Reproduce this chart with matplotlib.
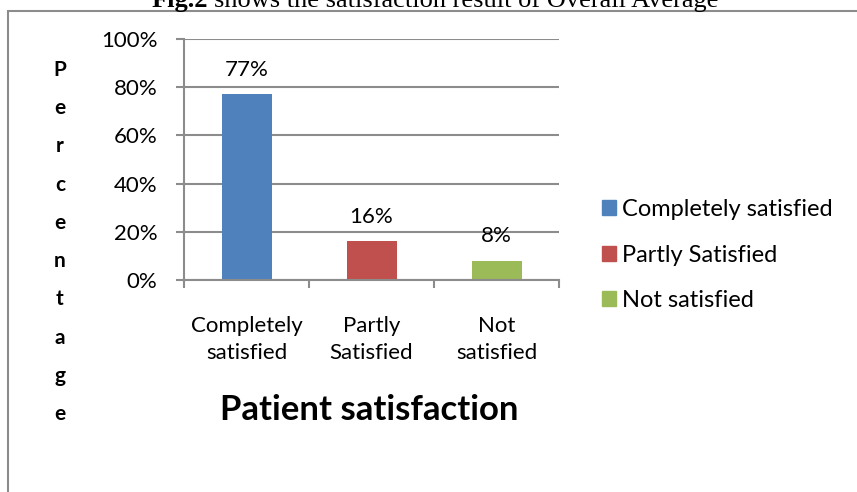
import matplotlib
matplotlib.use("Agg")
import matplotlib.pyplot as plt
from matplotlib.patches import Rectangle, Patch
from matplotlib.ticker import PercentFormatter

# data
categories = ["Completely\nsatisfied", "Partly\nSatisfied", "Not\nsatisfied"]
legend_names = ["Completely satisfied", "Partly Satisfied", "Not satisfied"]
values = [0.77, 0.16, 0.08]
value_labels = ["77%", "16%", "8%"]
colors = ["#4F81BD", "#C0504D", "#9BBB59"]

plt.rcParams["font.family"] = ["Lato", "DejaVu Sans"]

W, H = 857, 492
fig = plt.figure(figsize=(W / 100, H / 100), dpi=100)

# outer frame (runs off the right and bottom edges)
fig.patches.append(Rectangle((8 / W, -0.1), 1.2, 1 - 11 / H + 0.1, transform=fig.transFigure,
                             fill=False, edgecolor="#8c8c8c", linewidth=1.5))

# caption, cut at the top like in the source
t1 = fig.text(152 / W, 1 - 7 / H, "Fig.2", ha="left", va="baseline", fontsize=19,
              fontweight="bold", family="Liberation Serif")
fig.canvas.draw()
bb = t1.get_window_extent()
fig.text((bb.x1 + 5) / W, 1 - 7 / H, "shows the satisfaction result of Overall Average",
         ha="left", va="baseline", fontsize=19, family="Liberation Serif")

ax = fig.add_axes([184 / W, 1 - 280 / H, (559 - 184) / W, (280 - 39) / H])
x = range(len(values))
ax.bar(x, values, width=0.4, color=colors)
ax.set_xlim(-0.5, 2.5)
ax.set_ylim(0, 1)
ax.set_yticks([0, 0.2, 0.4, 0.6, 0.8, 1.0])
ax.yaxis.set_major_formatter(PercentFormatter(1.0, decimals=0))
ax.grid(axis="y", color="#8c8c8c", linewidth=1.5)
ax.set_axisbelow(True)
for s in ["top", "right"]:
    ax.spines[s].set_visible(False)
for s in ["left", "bottom"]:
    ax.spines[s].set_color("#8c8c8c")
    ax.spines[s].set_linewidth(1.5)
ax.set_xticks([-0.5, 0.5, 1.5, 2.5], minor=False)
ax.set_xticklabels([])
ax.set_xticks(list(x), minor=True)
ax.set_xticklabels(categories, minor=True, fontsize=16, linespacing=1.4)
ax.tick_params(axis="x", which="major", length=6, width=1.5, color="#8c8c8c")
ax.tick_params(axis="x", which="minor", length=0, pad=26)
ax.tick_params(axis="y", length=6, width=1.5, color="#8c8c8c", labelsize=16, pad=13)

for i, v in enumerate(values):
    ax.text(i, v + 0.06, value_labels[i], ha="center", va="bottom", fontsize=16)

# stacked y label
fig.text(60 / W, 1 - 242 / H, "\n".join("Percentage"), ha="center", va="center",
         fontsize=15, fontweight="bold", linespacing=2.14)

fig.text(369 / W, 1 - 410 / H, "Patient satisfaction", ha="center", va="center",
         fontsize=25, fontweight="bold")

handles = [Patch(color=c) for c in colors]
fig.legend(handles, legend_names, loc="center left", bbox_to_anchor=(581 / W, 1 - 255 / H),
           frameon=False, fontsize=17, handlelength=0.6, handleheight=0.6,
           handletextpad=0.25, labelspacing=1.05)

fig.savefig("out.png", dpi=100)
